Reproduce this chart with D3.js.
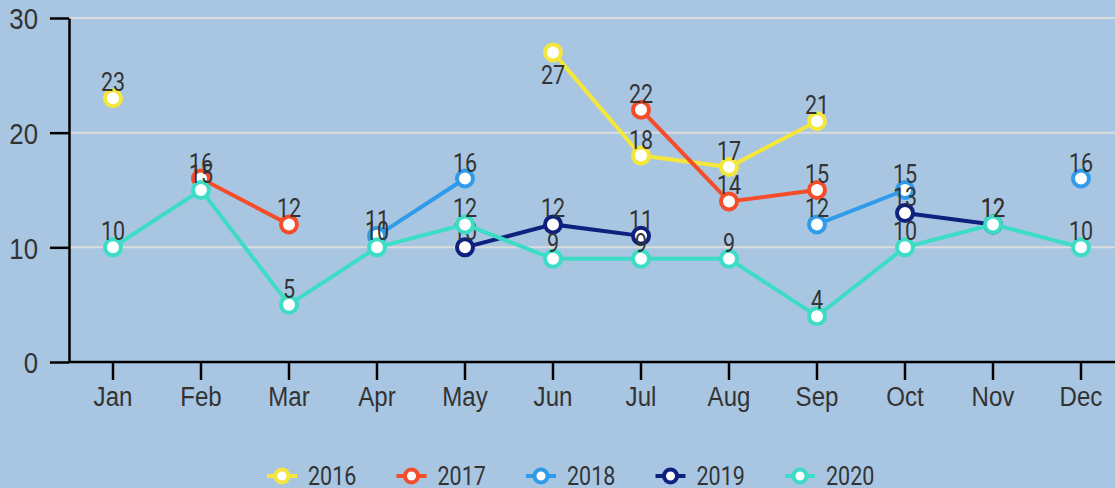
<!DOCTYPE html>
<html>
<head>
<meta charset="utf-8">
<script src="https://cdn.jsdelivr.net/npm/d3@7"></script>
<style>
  html, body { margin: 0; padding: 0; background: #a8c6e2; }
  svg { display: block; font-family: "Roboto", sans-serif; }
</style>
</head>
<body>
<div id="chart"></div>
<script>
// data
const months = ["Jan", "Feb", "Mar", "Apr", "May", "Jun", "Jul", "Aug", "Sep", "Oct", "Nov", "Dec"]
const years = ["2016", "2017", "2018", "2019", "2020"]
const colors = ["#f4e63c", "#f54d29", "#2f9be9", "#0e217f", "#3ddcc4"]
const v2016 = [23, null, null, null, null, 27, 18, 17, 21, null, null, null]
const v2017 = [null, 16, 12, null, null, null, 22, 14, 15, null, null, null]
const v2018 = [null, null, null, 11, 16, null, null, null, 12, 15, null, 16]
const v2019 = [null, null, null, null, 10, 12, 11, null, null, 13, 12, null]
const v2020 = [10, 15, 5, 10, 12, 9, 9, 9, 4, 10, 12, 10]
const yTicks = [0, 10, 20, 30]

const series = [v2016, v2017, v2018, v2019, v2020].map((vals, i) => ({
    name: years[i],
    color: colors[i],
    values: vals.map((v, j) => ({month: months[j], value: v}))
}))

let width = 1115
let height = 488
let margin = {top: 18, left: 69, bottom: 126}
const sx = 0.86   // condense Roboto a bit

const svg = d3.select("#chart")
    .append("svg")
    .attr("width", width)
    .attr("height", height)

let x = d3.scaleBand()
    .domain(months)
    .range([margin.left, margin.left + 12 * 88])

let y = d3.scaleLinear()
    .domain([0, 30])
    .range([height - margin.bottom, margin.top])

// gridlines
svg.append("g")
    .selectAll("line")
    .data(yTicks.filter(d => d > 0))
    .enter()
    .append("line")
    .attr("x1", margin.left)
    .attr("x2", width)
    .attr("y1", d => y(d))
    .attr("y2", d => y(d))
    .style("stroke", "#dcdcdc")
    .style("stroke-width", 2)

// axes
const xAxis = svg.append("g")
    .attr("transform", `translate(0, ${y(0)})`)
    .call(d3.axisBottom(x).tickSize(18).tickSizeOuter(0).tickPadding(6))

xAxis.select(".domain").attr("d", `M${margin.left},0H${width}`)

const yAxis = svg.append("g")
    .attr("transform", `translate(${margin.left}, 0)`)
    .call(d3.axisLeft(y).tickValues(yTicks).tickSize(19).tickSizeOuter(0).tickPadding(12))

for (const ax of [xAxis, yAxis]) {
    ax.selectAll(".domain, line").style("stroke", "#000").style("stroke-width", 2.5)
}

xAxis.selectAll("text")
    .attr("font-size", 28)
    .attr("fill", "#333")
    .attr("y", 24)
    .attr("dy", "0.71em")
    .attr("transform", `scale(${sx},1)`)

yAxis.selectAll("text")
    .attr("font-size", 30)
    .attr("fill", "#333")
    .attr("x", -31 / sx)
    .attr("dy", "0.36em")
    .attr("transform", `scale(${sx},1)`)

// lines and points
const line = d3.line()
    .defined(d => d.value !== null)
    .x(d => x(d.month) + x.bandwidth() / 2)
    .y(d => y(d.value))

const layer = svg.append("g")

for (const s of series) {
    const g = layer.append("g")
    g.append("path")
        .datum(s.values)
        .attr("d", line)
        .attr("fill", "none")
        .style("stroke", s.color)
        .style("stroke-width", 4)

    const pts = s.values.filter(d => d.value !== null)

    g.selectAll("circle")
        .data(pts)
        .enter()
        .append("circle")
        .attr("cx", d => x(d.month) + x.bandwidth() / 2)
        .attr("cy", d => y(d.value))
        .attr("r", 8)
        .attr("fill", "white")
        .style("stroke", s.color)
        .style("stroke-width", 4)

    g.selectAll("text")
        .data(pts)
        .enter()
        .append("text")
        .attr("text-anchor", "middle")
        .attr("font-size", 25)
        .attr("fill", "#333")
        .attr("transform", d => {
            let cx = x(d.month) + x.bandwidth() / 2
            let cy = y(d.value) + (d.value > 25 ? 32 : -7)
            return `translate(${cx}, ${cy}) scale(${sx},1)`
        })
        .text(d => d.value)
}

// legend
const legend = svg.append("g")
    .attr("transform", `translate(267, 476)`)

const item = legend.selectAll("g")
    .data(series)
    .enter()
    .append("g")
    .attr("transform", (d, i) => `translate(${i * 129.5}, 0)`)

item.append("line")
    .attr("x1", 0)
    .attr("x2", 30)
    .style("stroke", d => d.color)
    .style("stroke-width", 4)

item.append("circle")
    .attr("cx", 15)
    .attr("r", 6.5)
    .attr("fill", "white")
    .style("stroke", d => d.color)
    .style("stroke-width", 4)

item.append("text")
    .attr("font-size", 25)
    .attr("fill", "#333")
    .attr("dy", "0.36em")
    .attr("transform", `translate(41, 0) scale(${sx},1)`)
    .text(d => d.name)
</script>
</body>
</html>
